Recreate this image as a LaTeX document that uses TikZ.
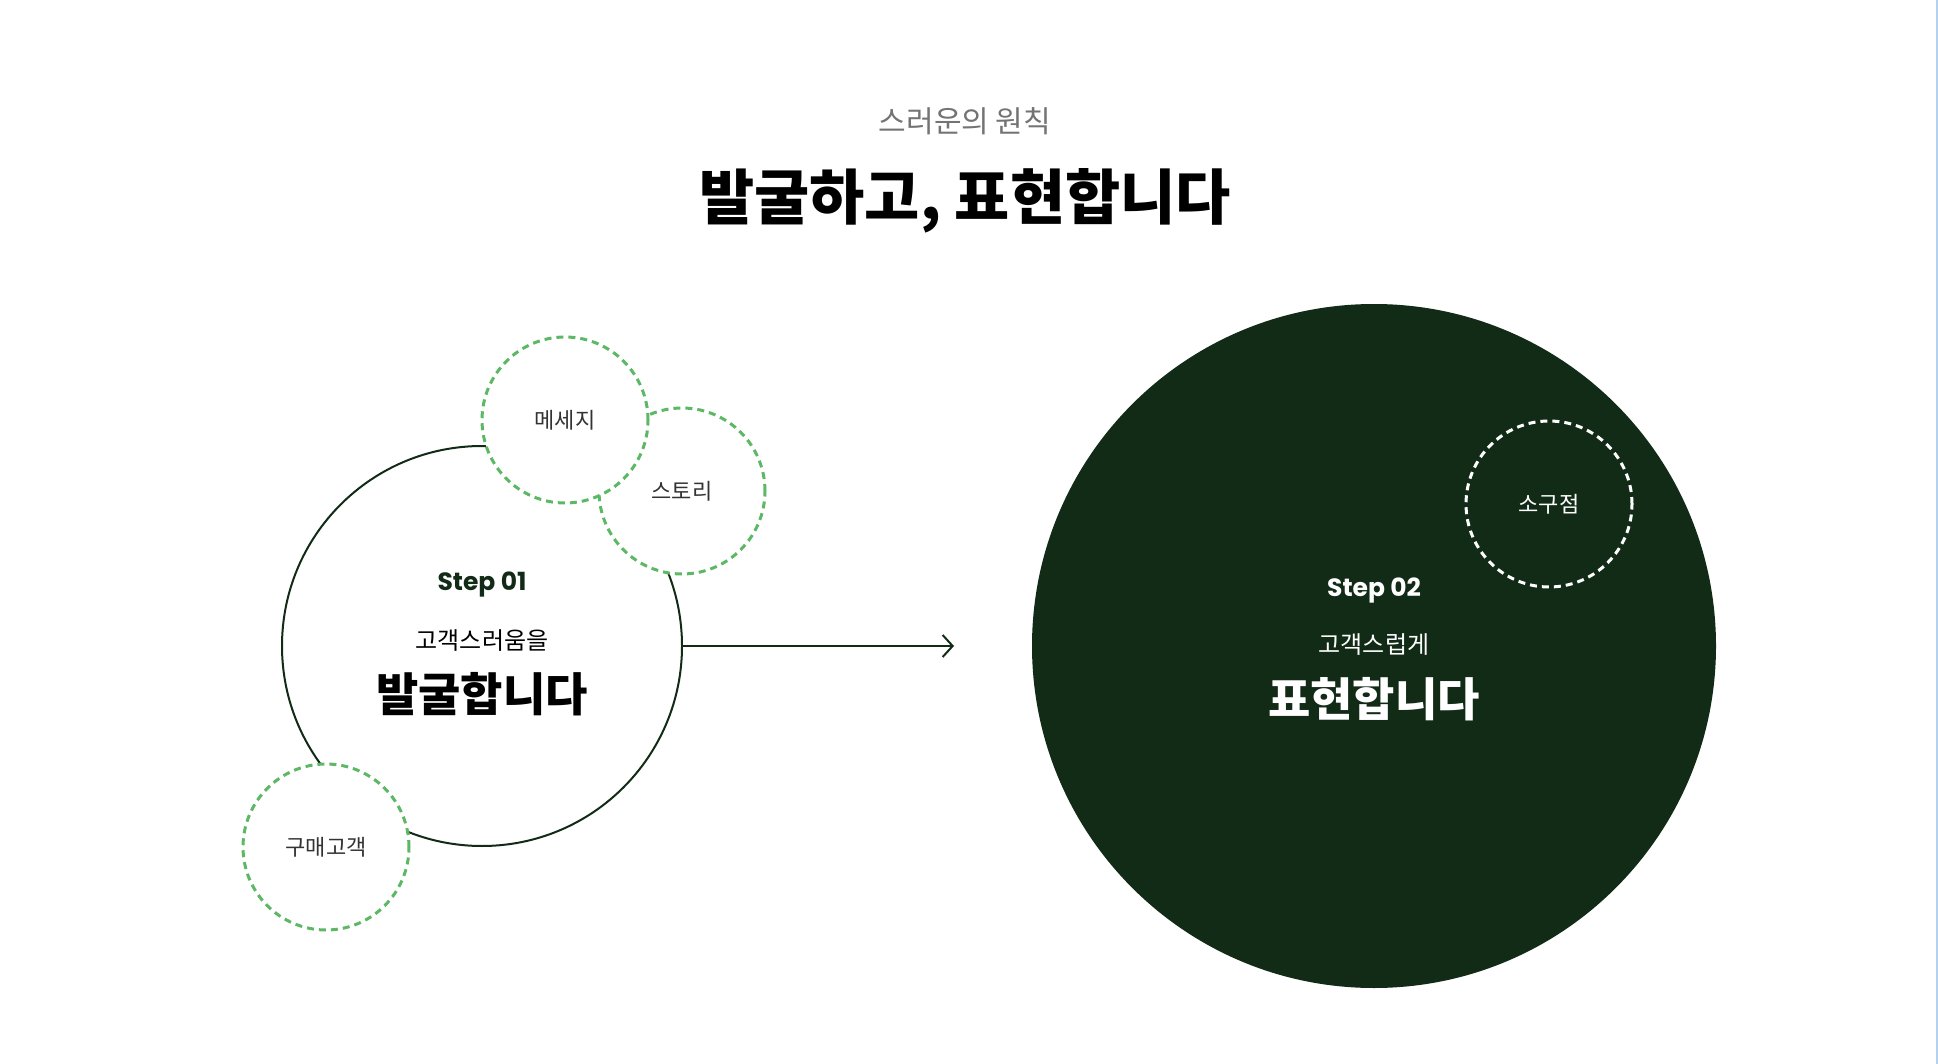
\documentclass[tikz,border=0pt]{standalone}
\usepackage{fontspec}
\setmainfont{Noto Sans CJK KR}
\newfontfamily\pop{Poppins}
\usetikzlibrary{arrows.meta}
\definecolor{dg}{HTML}{122B17}
\definecolor{lg}{HTML}{5DB865}
\definecolor{gt}{HTML}{333333}
\tikzset{
 dcirc/.style={circle,minimum size=166pt,inner sep=0,line width=3pt,dash pattern=on 7pt off 5pt},
 gdash/.style={dcirc,draw=lg,fill=white,text=gt,font=\fontsize{22}{26}\selectfont},
 steplbl/.style={font=\pop\bfseries\fontsize{25}{30}\selectfont},
 midtxt/.style={font=\fontsize{24}{28}\selectfont},
 bigtxt/.style={font=\bfseries\fontsize{46}{52}\selectfont}
}
\begin{document}
\begin{tikzpicture}[x=1pt,y=-1pt]
\useasboundingbox[fill=white] (0,0) rectangle (1938,1064);
\draw[color={rgb,255:red,180;green,210;blue,240},line width=2pt] (1937,0) -- (1937,1064);
\node[text=gray!90!black,font=\fontsize{30}{34}\selectfont] (sub) at (965,121) {스러운의 원칙};
\node[font=\bfseries\fontsize{60}{70}\selectfont] (title) at (965,201) {발굴하고, 표현합니다};
% left
\node[circle,draw=dg,line width=2pt,minimum size=400pt,inner sep=0] (L) at (482,646) {};
\node[gdash] (story) at (682,491) {스토리};
\node[gdash] (msg) at (565,420) {메세지};
\node[gdash] (buy) at (326,847) {구매고객};
\node[steplbl,text=dg] (s1) at (482,585) {Step 01};
\node[midtxt] (m1) at (482,641) {고객스러움을};
\node[bigtxt] (b1) at (482,694) {발굴합니다};
\coordinate (ae) at (954,646);
\draw[dg,line width=2pt,-{Straight Barb[length=10pt,width=22pt,line width=2pt]}] (L.east) -- (ae);
% right
\node[circle,fill=dg,minimum size=684pt,inner sep=0] (R) at (1374,646) {};
\node[dcirc,draw=white,text=white,font=\fontsize{22}{26}\selectfont] (sgj) at (1549,504) {소구점};
\node[steplbl,text=white] (s2) at (1374,590) {Step 02};
\node[midtxt,text=white] (m2) at (1374,645) {고객스럽게};
\node[bigtxt,text=white] (b2) at (1374,699) {표현합니다};
\end{tikzpicture}
\end{document}
